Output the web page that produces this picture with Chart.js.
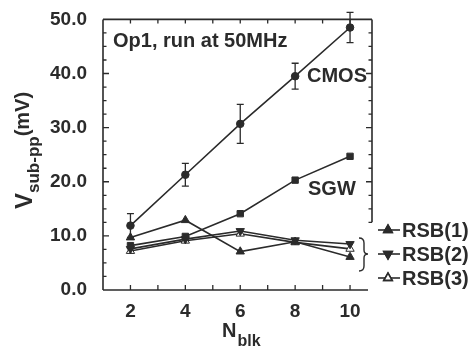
<!DOCTYPE html>
<html>
<head>
<meta charset="utf-8">
<script src="https://cdn.jsdelivr.net/npm/chart.js@4"></script>
<style>
  html, body { margin: 0; padding: 0; background: #fff; }
  #wrap { width: 473px; height: 352px; position: relative; }
</style>
</head>
<body>
<div id="wrap"><canvas id="chart"></canvas></div>
<script>
// values
const nblk = [2, 4, 6, 8, 10];
const cmos = [11.9, 21.3, 30.7, 39.5, 48.5];
const cmosErr = [2.2, 2.1, 3.6, 2.4, 2.8];
const sgw = [8.2, 9.9, 14.1, 20.3, 24.7];
const rsb1 = [9.7, 12.9, 7.1, 8.9, 6.1];
const rsb2 = [7.6, 9.4, 10.9, 9.2, 8.5];
const rsb3 = [7.2, 9.1, 10.4, 8.8, 7.6];
const legendLabels = ['RSB(1)', 'RSB(2)', 'RSB(3)'];
const xTicks = [2, 4, 6, 8, 10];
const yTicks = [0, 10, 20, 30, 40, 50];

const INK = '#2b2b2b';
const FONT = "'Liberation Sans', Arial, sans-serif";

function pts(ys) {
    return nblk.map((x, i) => ({ x: x, y: ys[i] }));
}

function series(label, ys, style, opts) {
    return Object.assign({
        label: label,
        data: pts(ys),
        borderColor: INK,
        backgroundColor: INK,
        pointBackgroundColor: INK,
        pointBorderColor: INK,
        borderWidth: 1.6,
        pointBorderWidth: 1,
        pointStyle: style,
        pointRadius: 4.5,
        tension: 0
    }, opts || {});
}

// inward ticks, frame, error bars, annotations, legend and axis titles
const decor = {
    id: 'decor',
    afterDatasetsDraw(chart) {
        const ctx = chart.ctx;
        const xs = chart.scales.x, ys = chart.scales.y;
        const a = chart.chartArea;
        ctx.save();
        ctx.strokeStyle = INK;
        ctx.fillStyle = INK;
        ctx.lineWidth = 1.6;

        // frame (right side stops above the legend)
        const rightEnd = ys.getPixelForValue(12.5);
        ctx.beginPath();
        ctx.moveTo(a.left, a.top); ctx.lineTo(a.left, a.bottom);
        ctx.moveTo(a.left, a.bottom); ctx.lineTo(a.right - 4, a.bottom);
        ctx.moveTo(a.left, a.top); ctx.lineTo(a.right, a.top);
        ctx.moveTo(a.right, a.top); ctx.lineTo(a.right, rightEnd);
        ctx.stroke();

        // ticks
        ctx.lineWidth = 1.3;
        ctx.beginPath();
        for (let v = 2.5; v < 50; v += 2.5) {
            const py = ys.getPixelForValue(v);
            const len = v % 10 === 0 ? 6 : 3.5;
            ctx.moveTo(a.left, py); ctx.lineTo(a.left + len, py);
            if (v >= 12.5) { ctx.moveTo(a.right, py); ctx.lineTo(a.right - len, py); }
        }
        for (let v = 2; v <= 10; v++) {
            const px = xs.getPixelForValue(v);
            ctx.moveTo(px, a.bottom); ctx.lineTo(px, a.bottom - 5);
            ctx.moveTo(px, a.top); ctx.lineTo(px, a.top + 4);
        }
        ctx.stroke();

        // error bars on CMOS
        ctx.lineWidth = 1.3;
        ctx.beginPath();
        nblk.forEach((x, i) => {
            const px = xs.getPixelForValue(x);
            const top = ys.getPixelForValue(cmos[i] + cmosErr[i]);
            const bot = ys.getPixelForValue(cmos[i] - cmosErr[i]);
            ctx.moveTo(px, top); ctx.lineTo(px, bot);
            ctx.moveTo(px - 3.5, top); ctx.lineTo(px + 3.5, top);
            ctx.moveTo(px - 3.5, bot); ctx.lineTo(px + 3.5, bot);
        });
        ctx.stroke();

        // annotations
        ctx.font = 'bold 20px ' + FONT;
        ctx.textBaseline = 'alphabetic';
        ctx.textAlign = 'left';
        ctx.fillText('Op1, run at 50MHz', 113, 47);
        ctx.fillText('CMOS', 307, 82);
        ctx.fillText('SGW', 308, 195);

        // legend for the RSB series
        const legendY = [230, 254, 278];
        [2, 3, 4].forEach((di, k) => {
            const ds = chart.data.datasets[di];
            const y = legendY[k];
            ctx.lineWidth = 1.6;
            ctx.beginPath();
            ctx.moveTo(378, y); ctx.lineTo(400, y);
            ctx.stroke();
            Chart.helpers.drawPoint(ctx, {
                pointStyle: ds.pointStyle,
                radius: 4.8,
                rotation: ds.rotation || 0,
                borderWidth: 1
            }, 388, y);
            ctx.fillStyle = ds.pointBackgroundColor;
            ctx.fill();
            ctx.strokeStyle = INK;
            ctx.stroke();
            ctx.fillStyle = INK;
            ctx.font = 'bold 20px ' + FONT;
            ctx.fillText(legendLabels[k], 402, y + 7);
        });

        // brace grouping the RSB lines
        ctx.lineWidth = 1.4;
        ctx.beginPath();
        ctx.moveTo(359, 238);
        ctx.quadraticCurveTo(364, 238, 364, 243);
        ctx.lineTo(364, 250);
        ctx.quadraticCurveTo(364, 254, 368, 254);
        ctx.quadraticCurveTo(364, 254, 364, 258);
        ctx.lineTo(364, 266);
        ctx.quadraticCurveTo(364, 271, 359, 271);
        ctx.stroke();

        // x title: N_blk
        ctx.textAlign = 'left';
        ctx.textBaseline = 'alphabetic';
        ctx.font = 'bold 20px ' + FONT;
        ctx.fillText('N', 222, 337);
        const nW = ctx.measureText('N').width;
        ctx.font = 'bold 16px ' + FONT;
        ctx.fillText('blk', 222 + nW + 1, 346);

        // y title: V_sub-pp(mV), rotated
        ctx.translate(32, 209);
        ctx.rotate(-Math.PI / 2);
        ctx.font = 'bold 24px ' + FONT;
        ctx.fillText('V', 0, 0);
        let off = ctx.measureText('V').width;
        ctx.font = 'bold 17px ' + FONT;
        ctx.fillText('sub-pp', off, 7);
        off += ctx.measureText('sub-pp').width;
        ctx.font = 'bold 20px ' + FONT;
        ctx.fillText('(mV)', off, -3);
        ctx.restore();
    }
};

new Chart(document.getElementById('chart'), {
    type: 'line',
    data: {
        datasets: [
            series('CMOS', cmos, 'circle', { pointRadius: 3.8 }),
            series('SGW', sgw, 'rect', { pointRadius: 4.5 }),
            series('RSB(1)', rsb1, 'triangle', { pointRadius: 4.8 }),
            series('RSB(2)', rsb2, 'triangle', { pointRadius: 4.8, rotation: 180, pointRotation: 180 }),
            series('RSB(3)', rsb3, 'triangle', { pointRadius: 4.8, pointBackgroundColor: '#fff', backgroundColor: '#fff' })
        ]
    },
    options: {
        responsive: true,
        maintainAspectRatio: false,
        animation: false,
        layout: { padding: { top: 17, right: 101, left: 0, bottom: 0 } },
        plugins: {
            legend: { display: false },
            tooltip: { enabled: false }
        },
        scales: {
            x: {
                type: 'linear',
                min: 1,
                max: 10.8,
                grid: { display: false },
                border: { display: false },
                afterFit: function (scale) { scale.height = 62; },
                afterBuildTicks: function (scale) { scale.ticks = xTicks.map(v => ({ value: v })); },
                ticks: {
                    autoSkip: false,
                    maxRotation: 0,
                    padding: 2,
                    color: INK,
                    font: { family: FONT, size: 19, weight: 'bold' },
                    callback: function (v) { return String(v); }
                }
            },
            y: {
                min: 0,
                max: 50,
                grid: { display: false },
                border: { display: false },
                afterFit: function (scale) { scale.width = 103; },
                afterBuildTicks: function (scale) { scale.ticks = yTicks.map(v => ({ value: v })); },
                ticks: {
                    autoSkip: false,
                    padding: 8,
                    color: INK,
                    font: { family: FONT, size: 19, weight: 'bold' },
                    callback: function (v) { return v.toFixed(1); }
                }
            }
        }
    },
    plugins: [decor]
});
</script>
</body>
</html>
